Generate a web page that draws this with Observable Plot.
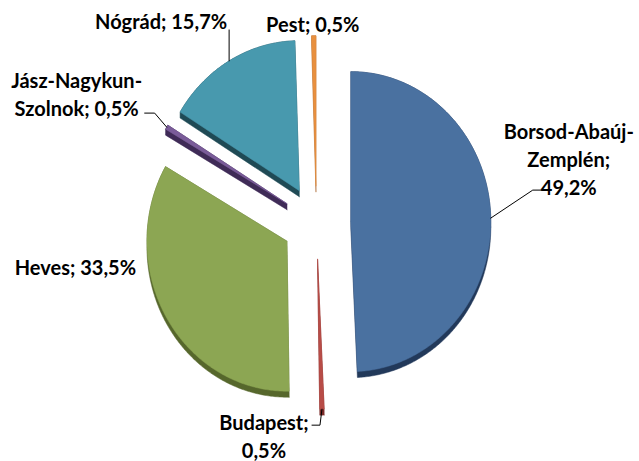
<!DOCTYPE html>
<html><head><meta charset="utf-8">
<script src="https://cdn.jsdelivr.net/npm/d3@7"></script>
<script src="https://cdn.jsdelivr.net/npm/@observablehq/plot@0.6"></script>
<style>body{margin:0;background:#fff}</style>
</head><body><div id="chart"></div>
<script>
// ---- data ----
const regions = ["Borsod-Abaúj-Zemplén", "Budapest", "Heves", "Jász-Nagykun-Szolnok", "Nógrád", "Pest"];
const shares = [49.2, 0.5, 33.5, 0.5, 15.7, 0.5];
const labels = ["Borsod-Abaúj-\nZemplén;\n49,2%", "Budapest;\n0,5%", "Heves; 33,5%", "Jász-Nagykun-\nSzolnok; 0,5%", "Nógrád; 15,7%", "Pest; 0,5%"];
const topColors = ["#4A71A0", "#B84C47", "#8CA653", "#7A5C99", "#4899AE", "#E8903F"];
const sideColors = ["#22395A", "#7B2B28", "#56672C", "#3F2B57", "#1F4A55", "#A8622A"];

// ---- layout ----
const W = 639, H = 461, CX = 316, CY = 222, RX = 140, RY = 150;
const EXPLODE = 0.245, DEPTH = 6;
// label offsets (px) from slice's outer mid-arc point, and leader elbows (px)
const labelLayout = [
  {dx: 78, dy: -60, leader: [[42, -28], [51, -28]]},
  {dx: -58, dy: 26, leader: [[-2, 16], [-10, 16]]},
  {dx: -91, dy: -51, leader: []},
  {dx: -90, dy: -34, leader: [[-12, -14], [-22, -14]]},
  {dx: -68, dy: -41, leader: [[0, -31]]},
  {dx: -1, dy: -13, leader: []}
];

const arcs = d3.pie().sort(null).startAngle(0).endAngle(2 * Math.PI)(shares);

const tops = [], sides = [], leaders = [], texts = [];
arcs.forEach((a, i) => {
  const mid = (a.startAngle + a.endAngle) / 2;
  const ox = EXPLODE * Math.sin(mid), oy = -EXPLODE * Math.cos(mid);
  const n = Math.max(4, Math.ceil((a.endAngle - a.startAngle) / 0.01));
  const pts = [[ox, oy]];
  for (let k = 0; k <= n; k++) {
    const t = a.startAngle + (a.endAngle - a.startAngle) * k / n;
    pts.push([ox + Math.sin(t), oy - Math.cos(t)]);
  }
  const shifted = pts.map(([u, v]) => [u, v + DEPTH / RY]);
  const hull = d3.polygonHull(pts.concat(shifted));
  hull.push(hull[0]);
  hull.forEach(([u, v]) => sides.push({id: i, u, v}));
  pts.push(pts[0]);
  pts.forEach(([u, v]) => tops.push({id: i, u, v}));
  const au = ox + Math.sin(mid), av = oy - Math.cos(mid);
  const L = labelLayout[i];
  if (L.leader.length) {
    leaders.push({id: i, u: au, v: av});
    L.leader.forEach(([px, py]) => leaders.push({id: i, u: au + px / RX, v: av + py / RY}));
  }
  texts.push({id: i, u: au + L.dx / RX, v: av + L.dy / RY, text: labels[i]});
});

const marks = [];
regions.forEach((r, i) => {
  marks.push(Plot.line(sides.filter(d => d.id === i), {x: "u", y: "v", fill: sideColors[i], stroke: sideColors[i], strokeWidth: 0.5, curve: "linear"}));
});
regions.forEach((r, i) => {
  marks.push(Plot.line(tops.filter(d => d.id === i), {x: "u", y: "v", fill: topColors[i], stroke: topColors[i], strokeWidth: 0.5, curve: "linear"}));
});
marks.push(Plot.line(leaders, {x: "u", y: "v", z: "id", stroke: "#000", strokeWidth: 1, curve: "linear"}));
marks.push(Plot.text(texts, {x: "u", y: "v", text: "text", fontSize: 20, fontWeight: "bold", fill: "#000", lineHeight: 1.38, textAnchor: "middle", lineAnchor: "middle"}));

const chart = Plot.plot({
  width: W, height: H,
  margin: 0,
  style: {fontFamily: "Lato, 'Open Sans', sans-serif", background: "#fff"},
  x: {domain: [-CX / RX, (W - CX) / RX], range: [0, W], axis: null},
  y: {domain: [-CY / RY, (H - CY) / RY], range: [0, H], axis: null},
  marks
});
document.getElementById("chart").appendChild(chart);
</script>
</body></html>
